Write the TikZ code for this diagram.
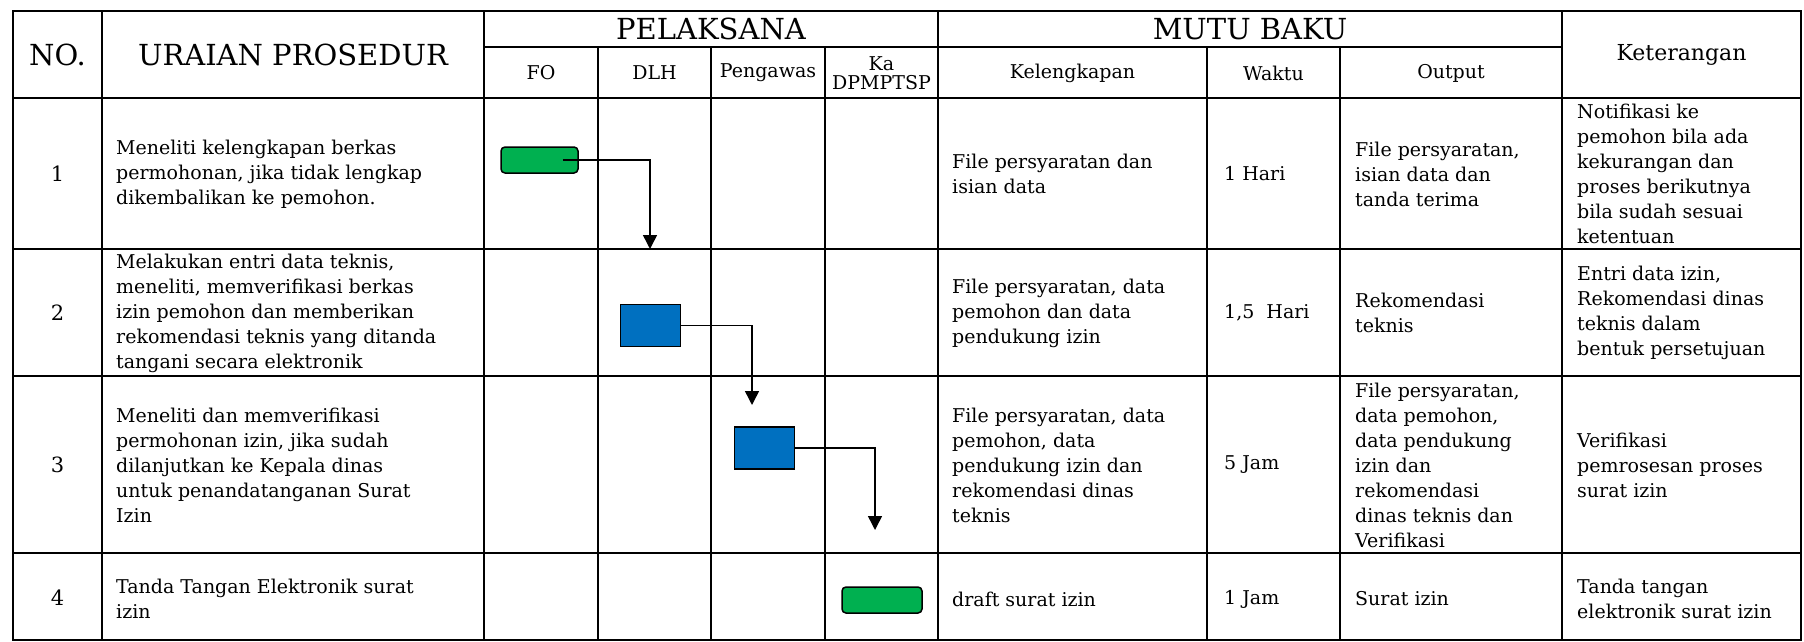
\documentclass[tikz,border=0pt]{standalone}
\usepackage{fontspec}
\setmainfont{DejaVu Serif}
\usepackage{tikz}
\usetikzlibrary{arrows.meta}
\definecolor{cGreen}{RGB}{0,176,80}
\definecolor{cBlue}{RGB}{0,112,192}
\tikzset{
	tbl/.style      ={line width=2pt, line cap=rect},
	hdr/.style      ={font=\fontsize{29}{32}\selectfont, inner sep=0pt},
	subhdr/.style   ={font=\fontsize{19}{19}\selectfont, inner sep=0pt, align=center},
	num/.style      ={font=\fontsize{21}{25}\selectfont, inner sep=0pt},
	cell/.style     ={font=\fontsize{19}{25}\selectfont, inner sep=0pt, anchor=west, align=left},
	startstop/.style={rectangle, rounded corners=4pt, draw=black, line width=1.5pt, fill=cGreen, minimum width=80pt, minimum height=26pt},
	process/.style  ={rectangle, draw=black, line width=1.5pt, fill=cBlue, minimum width=60pt, minimum height=42pt},
	flowarrow/.style={-{Triangle[width=14pt, length=14pt]}, line width=1.5pt},
}
\begin{document}
\begin{tikzpicture}[x=1pt, y=-1pt]
			\useasboundingbox[fill=white] (0,0) rectangle (1804,642);
			% table frame
			\foreach \x in {13,102,484,938,1562,1801} \draw[tbl] (\x,11) -- (\x,640);
			\foreach \x in {598,711,825,1207,1340} \draw[tbl] (\x,47) -- (\x,640);
			\foreach \y in {11,98,249,376,553,640} \draw[tbl] (13,\y) -- (1801,\y);
			\draw[tbl] (484,47) -- (1562,47);
			% header
			\node[hdr] (hno) at (57.5,55) {NO.};
			\node[hdr] (hur) at (293,55) {URAIAN PROSEDUR};
			\node[hdr] (hpl) at (711,29) {PELAKSANA};
			\node[hdr] (hmb) at (1250,29) {MUTU BAKU};
			\node[subhdr, font=\fontsize{22}{24}\selectfont] (hkt) at (1681.5,55) {Keterangan};
			\node[subhdr] (hfo) at (541,73) {FO};
			\node[subhdr] (hdl) at (654.5,73) {DLH};
			\node[subhdr] (hpg) at (768,73) {Pengawas};
			\node[subhdr] (hka) at (881.5,73) {Ka\\DPMPTSP};
			\node[subhdr] (hkl) at (1072.5,73) {Kelengkapan};
			\node[subhdr] (hwk) at (1273.5,73) {Waktu};
			\node[subhdr] (hout) at (1451,73) {Output};
			% row 1
			\node[num] (n1) at (57.5,174) {1};
			\node[cell] (u1) at (116,174) {Meneliti kelengkapan berkas\\permohonan, jika tidak lengkap\\dikembalikan ke pemohon.};
			\node[cell] (k1) at (952,174) {File persyaratan dan\\isian data};
			\node[cell] (w1) at (1224,174) {1 Hari};
			\node[cell] (o1) at (1355,174) {File persyaratan,\\isian data dan\\tanda terima};
			\node[cell] (t1) at (1577,174) {Notifikasi ke\\pemohon bila ada\\kekurangan dan\\proses berikutnya\\bila sudah sesuai\\ketentuan};
			% row 2
			\node[num] (n2) at (57.5,313) {2};
			\node[cell] (u2) at (116,313) {Melakukan entri data teknis,\\meneliti, memverifikasi berkas\\izin pemohon dan memberikan\\rekomendasi teknis yang ditanda\\tangani secara elektronik};
			\node[cell] (k2) at (952,313) {File persyaratan, data\\pemohon dan data\\pendukung izin};
			\node[cell] (w2) at (1224,313) {1,5\ \ Hari};
			\node[cell] (o2) at (1355,313) {Rekomendasi\\teknis};
			\node[cell] (t2) at (1577,313) {Entri data izin,\\Rekomendasi dinas\\teknis dalam\\bentuk persetujuan};
			% row 3
			\node[num] (n3) at (57.5,465) {3};
			\node[cell] (u3) at (116,465) {Meneliti dan memverifikasi\\permohonan izin, jika sudah\\dilanjutkan ke Kepala dinas\\untuk penandatanganan Surat\\Izin};
			\node[cell] (k3) at (952,465) {File persyaratan, data\\pemohon, data\\pendukung izin dan\\rekomendasi dinas\\teknis};
			\node[cell] (w3) at (1224,465) {5 Jam};
			\node[cell] (o3) at (1355,465) {File persyaratan,\\data pemohon,\\data pendukung\\izin dan\\rekomendasi\\dinas teknis dan\\Verifikasi};
			\node[cell] (t3) at (1577,465) {Verifikasi\\pemrosesan proses\\surat izin};
			% row 4
			\node[num] (n4) at (57.5,598) {4};
			\node[cell] (u4) at (116,599) {Tanda Tangan Elektronik surat\\izin};
			\node[cell] (k4) at (952,599) {draft surat izin};
			\node[cell] (w4) at (1224,599) {1 Jam};
			\node[cell] (o4) at (1355,599) {Surat izin};
			\node[cell] (t4) at (1577,599) {Tanda tangan\\elektronik surat izin};
			% flow
			\node[startstop, minimum width=77pt] (b1) at (539.5,160) {};
			\node[process] (b2) at (650.5,325.5) {};
			\node[process] (b3) at (764.5,448) {};
			\node[startstop] (b4) at (882,600) {};
			\coordinate (e1) at (650,249);
			\coordinate (e2) at (752,405);
			\coordinate (e3) at (875,530);
			\draw[flowarrow] ([xshift=-16pt]b1.east) -| (e1);
			\draw[flowarrow] (b2.east) -| (e2);
			\draw[flowarrow] (b3.east) -| (e3);
		\end{tikzpicture}
\end{document}
